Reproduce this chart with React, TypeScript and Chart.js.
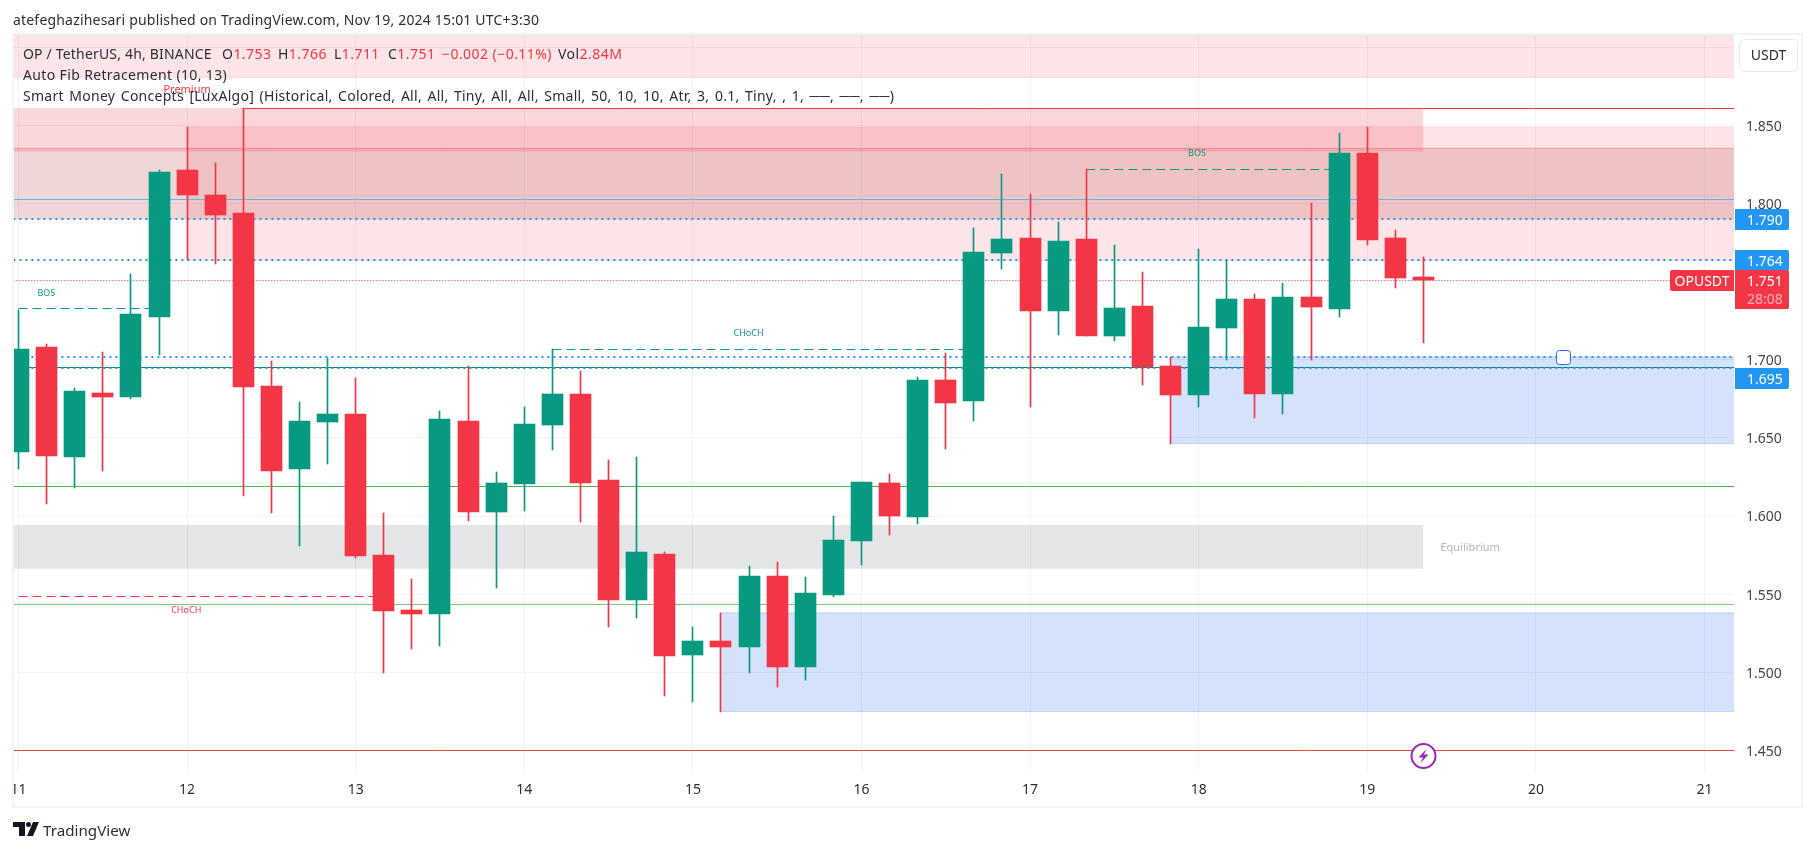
import React, { useEffect, useRef } from "react";
import { Chart, registerables } from "chart.js";

Chart.register(...registerables);

// ---------- data ----------
const opens = [1.6407,1.7083,1.6375,1.6789,1.6765,1.7277,1.8216,1.8056,1.7941,1.6833,1.6298,1.6603,1.6654,1.5751,1.5399,1.5374,1.6609,1.6027,1.6206,1.6584,1.6782,1.6232,1.5463,1.5758,1.5111,1.5201,1.5162,1.5617,1.5034,1.5495,1.5841,1.6212,1.5995,1.6872,1.6737,1.7685,1.7781,1.7313,1.7774,1.7153,1.7345,1.6961,1.6776,1.7205,1.739,1.6782,1.7403,1.7326,1.8325,1.7781,1.7531];
const highs = [1.732,1.7102,1.682,1.7051,1.755,1.8216,1.8491,1.8257,1.8611,1.6993,1.6731,1.7013,1.6885,1.602,1.5598,1.6673,1.6961,1.6283,1.6699,1.7068,1.6929,1.636,1.6379,1.5771,1.529,1.538,1.5681,1.5707,1.561,1.6001,1.6219,1.627,1.6891,1.7045,1.7845,1.8191,1.8062,1.7883,1.822,1.7736,1.7563,1.7019,1.771,1.764,1.7422,1.7493,1.8005,1.8453,1.8491,1.7832,1.766];
const lows = [1.63,1.608,1.6182,1.6285,1.6746,1.7032,1.764,1.7614,1.6129,1.6022,1.5811,1.633,1.5734,1.4998,1.515,1.5169,1.5969,1.554,1.6033,1.6424,1.5963,1.529,1.5348,1.4849,1.481,1.4748,1.4996,1.4906,1.4951,1.5483,1.5687,1.5879,1.595,1.643,1.6609,1.7582,1.6699,1.716,1.7153,1.7121,1.684,1.6462,1.6699,1.7,1.6628,1.6654,1.7,1.7275,1.7736,1.7461,1.711];
const closes = [1.707,1.6387,1.6801,1.6763,1.7294,1.8203,1.8052,1.7928,1.6827,1.6285,1.6609,1.6654,1.5747,1.5393,1.5374,1.6622,1.6027,1.6212,1.659,1.6782,1.6212,1.5463,1.5771,1.5105,1.5201,1.5162,1.5617,1.5034,1.5508,1.5847,1.6219,1.6001,1.6872,1.6724,1.7691,1.7774,1.7313,1.7762,1.7153,1.7333,1.6955,1.6776,1.7211,1.739,1.6782,1.7403,1.7339,1.8325,1.7768,1.7525,1.751];

const dayTicks = [11,12,13,14,15,16,17,18,19,20,21];
const barsPerDay = 6;
const dayOf = (i: number) => 11 + i / barsPerDay;

const zoneStartBars = { premiumCross: 6, supplyLine: 8, demandLow: 25, demandHigh: 41 };
const priceMax = 1.90794;
const priceMin = 1.43611;
const dayMin = 10.9733;
const dayMax = 21.175;

const supplyLine = 1.86088;
const blueLevel = 1.80262;
const dottedLevels = [1.79014, 1.7639, 1.7018, 1.69475];
const lastPriceLevel = 1.75077;
const tealLevel = 1.69507;
const greenLevels = [1.61889, 1.54334];
const lowLevel = 1.44987;

const bosLeft = { from: 0, to: 5, price: 1.73284 };
const bosRight = { from: 38, to: 47, price: 1.82183 };
const chochUp = { from: 19, to: 34, price: 1.7066 };
const chochDown = { from: 0, to: 13, price: 1.54846 };

const labelTexts = ["BOS", "BOS", "CHoCH", "CHoCH", "Premium", "Equilibrium"];
const labelDays = [11.165, 17.99, 15.33, 11.995, 12.0, 19.61];
const labelPrices = [1.7429, 1.8325, 1.7173, 1.5399, 1.8735, 1.5803];

const priceTagValues = [1.79, 1.764, 1.695];
const lastPriceText = "1.751";
const countdownText = "28:08";
const symbolText = "OPUSDT";

// ---------- styles ----------
const GREEN = "#089981";
const RED = "#f23645";
const FONT = '"Noto Sans", sans-serif';

const barColors = closes.map((c, i) => (c >= opens[i] ? GREEN : RED));

type Zone = { a: number; b: number; top: number; bottom: number; fill: string; topBorder?: string; bottomBorder?: string };
const zones: Zone[] = [
  { a: dayMin - 1, b: dayMax + 1, top: 2.0, bottom: 1.88073, fill: "rgba(242,54,69,0.13)", bottomBorder: "rgba(242,54,69,0.12)" },
  { a: dayMin - 1, b: dayOf(50), top: 1.8612, bottom: 1.8334, fill: "rgba(242,54,69,0.2)" },
  { a: dayOf(zoneStartBars.premiumCross), b: dayMax + 1, top: 1.84904, bottom: 1.7635, fill: "rgba(242,54,69,0.13)", topBorder: "rgba(242,54,69,0.12)", bottomBorder: "rgba(242,54,69,0.12)" },
  { a: dayMin - 1, b: dayMax + 1, top: 1.8354, bottom: 1.7899, fill: "rgba(170,40,45,0.19)", topBorder: "rgba(242,54,69,0.3)" },
  { a: dayMin - 1, b: dayOf(50), top: 1.5943, bottom: 1.5662, fill: "rgba(120,123,134,0.2)" },
  { a: dayOf(zoneStartBars.demandLow), b: dayMax + 1, top: 1.538, bottom: 1.4748, fill: "rgba(33,100,240,0.19)", topBorder: "rgba(41,98,255,0.22)", bottomBorder: "rgba(41,98,255,0.22)" },
  { a: dayOf(zoneStartBars.demandHigh), b: dayMax + 1, top: 1.7019, bottom: 1.6464, fill: "rgba(33,100,240,0.19)", topBorder: "rgba(41,98,255,0.18)", bottomBorder: "rgba(41,98,255,0.22)" },
];

const hLine = (a: number, b: number, y: number, color: string, width = 1, dash: number[] = [], order = 2) => ({
  type: "line" as const,
  data: [{ x: a, y }, { x: b, y }],
  borderColor: color,
  borderWidth: width,
  borderDash: dash,
  borderCapStyle: "butt" as const,
  pointRadius: 0,
  fill: false,
  order,
  clip: 0,
});

function buildDatasets(): any[] {
  const out: any[] = [];
  out.push({
    type: "bar",
    data: opens.map((o, i) => ({ x: dayOf(i), y: [o, closes[i]] })),
    backgroundColor: barColors,
    barThickness: 21,
    grouped: false,
    order: 0,
  });
  out.push({
    type: "bar",
    data: lows.map((l, i) => ({ x: dayOf(i), y: [l, highs[i]] })),
    backgroundColor: barColors,
    barThickness: 1,
    grouped: false,
    order: 1,
  });
  const L = dayMin - 1;
  const R = dayMax + 1;
  out.push(hLine(dayOf(zoneStartBars.supplyLine), R, supplyLine, RED));
  out.push(hLine(L, R, blueLevel, "#64b5f6"));
  dottedLevels.forEach((v) => out.push(hLine(L, R, v, "#2196f3", 2, [2, 4])));
  out.push(hLine(L, R, lastPriceLevel, RED, 1, [1, 2]));
  out.push(hLine(L, R, tealLevel, "#00897b"));
  out.push(hLine(L, R, greenLevels[0], "#4caf50"));
  out.push(hLine(L, R, greenLevels[1], "#81c784"));
  out.push(hLine(L, R, lowLevel, "#f44336"));
  [bosLeft, bosRight, chochUp].forEach((s) =>
    out.push(hLine(dayOf(s.from), dayOf(s.to), s.price, GREEN, 1, [9, 5]))
  );
  out.push(hLine(dayOf(chochDown.from), dayOf(chochDown.to), chochDown.price, RED, 1, [9, 5]));
  zones.forEach((z, idx) => {
    out.push({
      type: "line",
      data: [{ x: z.a, y: z.top }, { x: z.b, y: z.top }],
      borderWidth: z.topBorder ? 1 : 0,
      borderColor: z.topBorder || "transparent",
      backgroundColor: z.fill,
      fill: { value: z.bottom },
      pointRadius: 0,
      order: 4 + idx,
      clip: 0,
    });
    if (z.bottomBorder) out.push(hLine(z.a, z.b, z.bottom, z.bottomBorder, 1, [], 3));
  });
  return out;
}

const snapBars = {
  id: "snapBars",
  afterDatasetsUpdate(chart: any) {
    chart.getSortedVisibleDatasetMetas().forEach((meta: any) => {
      if (meta.type !== "bar") return;
      meta.data.forEach((el: any) => {
        el.x = Math.floor(el.x) + 0.5;
        el.y = Math.round(el.y);
        el.base = Math.round(el.base);
      });
    });
  },
  beforeDraw(chart: any) {
    chart.scales.y.getLabelItems(chart.chartArea).forEach((it: any) => {
      it.textOffset += 1.5;
    });
  },
};

const overlay = {
  id: "overlay",
  afterDraw(chart: any) {
    const { ctx, scales, chartArea } = chart;
    const X = scales.x;
    const Y = scales.y;
    const W = chart.width;
    ctx.save();

    // in-chart labels
    ctx.textBaseline = "middle";
    ctx.textAlign = "center";
    labelTexts.forEach((t, i) => {
      const isPremium = t === "Premium";
      const isEq = t === "Equilibrium";
      const isRed = isPremium || (t === "CHoCH" && labelPrices[i] < 1.6);
      ctx.font = `${isPremium || isEq ? 11 : 9}px ${FONT}`;
      ctx.fillStyle = isEq ? "#b2b5be" : isRed ? RED : GREEN;
      ctx.fillText(t, X.getPixelForValue(labelDays[i]), Y.getPixelForValue(labelPrices[i]) + 1);
    });

    // alert handle
    const ax = X.getPixelForValue(20.16);
    const ay = Y.getPixelForValue(dottedLevels[2]);
    ctx.beginPath();
    ctx.roundRect(Math.round(ax) - 7 + 0.5, Math.round(ay) - 7 + 0.5, 14, 14, 3);
    ctx.fillStyle = "#fff";
    ctx.fill();
    ctx.strokeStyle = "#2962ff";
    ctx.lineWidth = 1;
    ctx.stroke();

    // lightning marker
    const lx = X.getPixelForValue(dayOf(50));
    const ly = chartArea.bottom - 16;
    ctx.beginPath();
    ctx.arc(lx, ly, 12, 0, Math.PI * 2);
    ctx.fillStyle = "#fff";
    ctx.fill();
    ctx.strokeStyle = "#9c27b0";
    ctx.lineWidth = 2;
    ctx.stroke();
    ctx.beginPath();
    const bolt = [[3, -7], [-5, 1.5], [-0.5, 1.5], [-3, 7], [5, -1.5], [0.5, -1.5]];
    bolt.forEach(([dx, dy], i) => (i ? ctx.lineTo(lx + dx, ly + dy) : ctx.moveTo(lx + dx, ly + dy)));
    ctx.closePath();
    ctx.fillStyle = "#9c27b0";
    ctx.fill();

    // price tags
    ctx.textAlign = "left";
    ctx.font = `14px ${FONT}`;
    const tagX = 1735;
    const tagW = 54;
    const tagH = 21;
    const textX = 1747;
    priceTagValues.forEach((v, i) => {
      const base = i === 0 ? dottedLevels[0] : i === 1 ? dottedLevels[1] : dottedLevels[3];
      const py = Y.getPixelForValue(base);
      const cy = i === 2 ? py + 10.5 : py + 0.5;
      ctx.fillStyle = "#2196f3";
      ctx.beginPath();
      ctx.roundRect(tagX, Math.round(cy - tagH / 2), tagW, tagH, [0, 2, 2, 0]);
      ctx.fill();
      ctx.fillStyle = "#fff";
      ctx.fillText(v.toFixed(3), textX, cy + 1.5);
    });
    // last price
    const ry = 270;
    ctx.fillStyle = RED;
    ctx.beginPath();
    ctx.roundRect(tagX, ry, tagW, 39, [0, 2, 2, 0]);
    ctx.fill();
    ctx.beginPath();
    ctx.roundRect(1670, ry, 64, 21, [2, 0, 0, 2]);
    ctx.fill();
    ctx.fillStyle = "#fff";
    ctx.fillText(lastPriceText, textX, ry + 12);
    ctx.fillStyle = "rgba(255,255,255,0.6)";
    ctx.fillText(countdownText, textX, ry + 30);
    ctx.fillStyle = "#fff";
    ctx.textAlign = "center";
    ctx.fillText(symbolText, 1702, ry + 12);

    // USDT button
    ctx.beginPath();
    ctx.roundRect(1739.5, 39.5, 58, 32, 5);
    ctx.fillStyle = "#fff";
    ctx.fill();
    ctx.strokeStyle = "#e6e8f0";
    ctx.lineWidth = 1;
    ctx.stroke();
    ctx.fillStyle = "#2a2e39";
    ctx.fillText("USDT", 1768.5, 56.5);

    // outer frame
    ctx.fillStyle = "#fff";
    ctx.fillRect(0, 33, 12, 776);
    ctx.fillRect(1803, 33, W - 1803, 776);
    ctx.strokeStyle = "#f0f3fa";
    ctx.lineWidth = 2;
    ctx.strokeRect(13, 34, 1789, 773);
    ctx.restore();
  },
};

const legendRowStyle: React.CSSProperties = {
  position: "absolute",
  left: 23,
  font: `14px ${FONT}`,
  color: "#2a2e39",
  whiteSpace: "pre",
  lineHeight: "20px",
};

const spanAt = (left: number, label: string, value: string, top: number) => (
  <div style={{ ...legendRowStyle, left, top, color: "#2a2e39", letterSpacing: 0.45 }}>
    {label}
    <span style={{ color: RED }}>{value}</span>
  </div>
);

export default function App() {
  const ref = useRef<HTMLCanvasElement | null>(null);
  useEffect(() => {
    document.body.style.margin = "0";
    document.body.style.overflow = "hidden";
    const chart = new Chart(ref.current as HTMLCanvasElement, {
      type: "bar",
      data: { datasets: buildDatasets() },
      plugins: [snapBars, overlay],
      options: {
        animation: false,
        responsive: false,
        devicePixelRatio: 1,
        layout: { padding: { left: 14, top: 35, right: 0, bottom: 0 } },
        plugins: { legend: { display: false }, tooltip: { enabled: false } },
        events: [],
        scales: {
          x: {
            type: "linear",
            offset: false,
            min: dayMin,
            max: dayMax,
            afterBuildTicks: (s: any) => {
              s.ticks = dayTicks.map((value) => ({ value }));
            },
            afterFit: (s: any) => {
              s.height = 79;
            },
            grid: { color: "#f0f3fa", drawTicks: false, offset: false },
            border: { display: false },
            ticks: {
              autoSkip: false,
              maxRotation: 0,
              padding: 10,
              color: "#2a2e39",
              font: { family: FONT, size: 14 },
              callback: (v: any) => String(v),
            },
          },
          y: {
            type: "linear",
            position: "right",
            min: priceMin,
            max: priceMax,
            afterFit: (s: any) => {
              s.width = 80;
            },
            grid: { color: "#f0f3fa", drawTicks: false },
            border: { display: false },
            ticks: {
              stepSize: 0.05,
              includeBounds: false,
              autoSkip: false,
              padding: 12,
              color: "#42454f",
              font: { family: FONT, size: 14 },
              callback: (v: any) => Number(v).toFixed(3),
            },
          },
        },
      } as any,
    });
    return () => chart.destroy();
  }, []);

  return (
    <div style={{ position: "absolute", left: 0, top: 0, width: 1814, height: 851, overflow: "hidden", background: "#fff" }}>
      <canvas ref={ref} width={1814} height={851} style={{ position: "absolute", left: 0, top: 0, display: "block" }} />
      <div style={{ ...legendRowStyle, left: 13, top: 10, color: "#2a2e39", letterSpacing: 0.19 }}>
        atefeghazihesari published on TradingView.com, Nov 19, 2024 15:01 UTC+3:30
      </div>
      <div style={{ ...legendRowStyle, top: 44, letterSpacing: 0.18 }}>OP / TetherUS, 4h, BINANCE</div>
      {spanAt(222, "O", "1.753", 44)}
      {spanAt(278, "H", "1.766", 44)}
      {spanAt(334, "L", "1.711", 44)}
      {spanAt(388, "C", "1.751", 44)}
      {spanAt(442, "", "\u22120.002 (\u22120.11%)", 44)}
      {spanAt(558, "Vol", "2.84M", 44)}
      <div style={{ ...legendRowStyle, top: 65, letterSpacing: 0.36 }}>Auto Fib Retracement (10, 13)</div>
      <div style={{ ...legendRowStyle, top: 86, letterSpacing: 0.27, wordSpacing: 1.6 }}>
        Smart Money Concepts [LuxAlgo] (Historical, Colored, All, All, Tiny, All, All, Small, 50, 10, 10, Atr, 3, 0.1, Tiny, , 1, ──, ──, ──)
      </div>
      <svg width={26} height={14} viewBox="0 0 26 14" style={{ position: "absolute", left: 13, top: 822 }}>
        <path d="M0 0H12V14H6V5H0Z M20 0H26L20 14H14Z" fill="#131722" />
        <circle cx="15.5" cy="2.5" r="2.5" fill="#131722" />
      </svg>
      <div style={{ position: "absolute", left: 43, top: 818, font: `15.2px ${FONT}`, color: "#2a2e39", lineHeight: "24px", whiteSpace: "pre" }}>
        TradingView
      </div>
    </div>
  );
}
